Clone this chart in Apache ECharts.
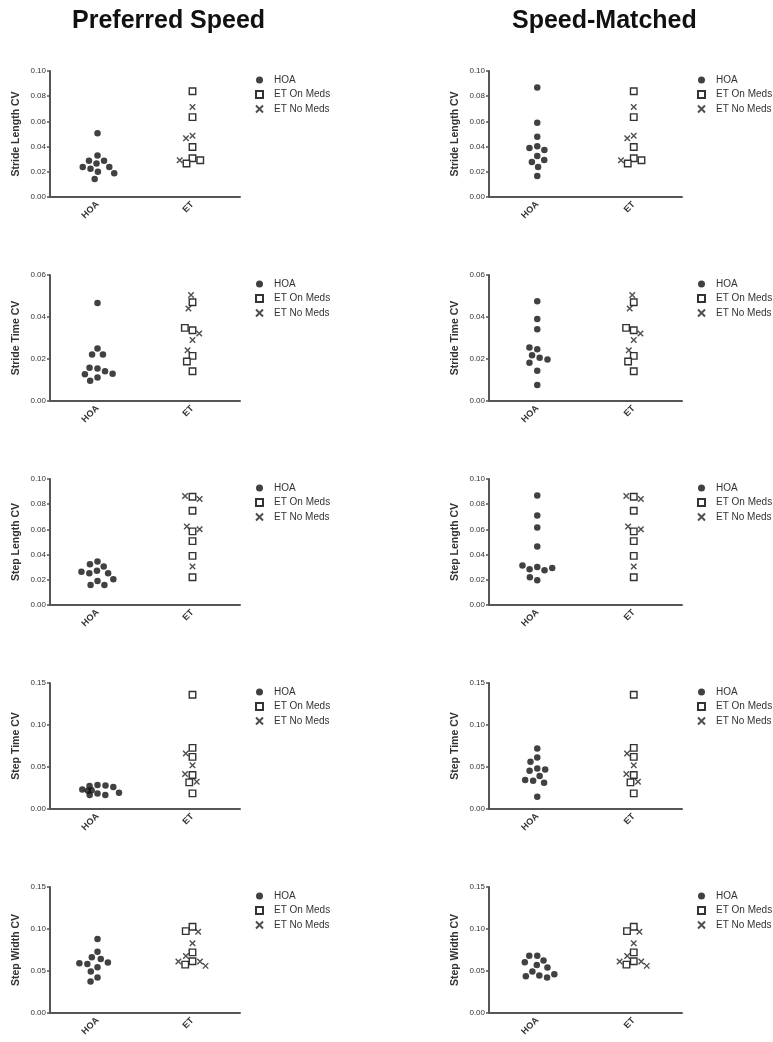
<!DOCTYPE html>
<html>
<head>
<meta charset="utf-8">
<script src="https://cdn.jsdelivr.net/npm/echarts@6/dist/echarts.min.js"></script>
<style>
html, body { margin: 0; padding: 0; background: #fff; }
#main { width: 773px; height: 1042px; }
</style>
</head>
<body>
<div id="main"></div>
<script>
var myChart = echarts.init(document.getElementById('main'));

// panel rows
var metrics = ['Stride Length CV', 'Stride Time CV', 'Step Length CV', 'Step Time CV', 'Step Width CV'];
var yMax = [0.10, 0.06, 0.10, 0.15, 0.15];
var yStep = [0.02, 0.02, 0.02, 0.05, 0.05];
var groups = ['HOA', 'ET'];
var columns = ['Preferred Speed', 'Speed-Matched'];

// HOA, preferred speed (one list per metric)
var hoaPref = [
    [0.0505, 0.0329, 0.0266, 0.0287, 0.0287, 0.0239, 0.0224, 0.0239, 0.0200, 0.0189, 0.0142],
    [0.0467, 0.0250, 0.0222, 0.0222, 0.0155, 0.0158, 0.0142, 0.0127, 0.0130, 0.0112, 0.0097],
    [0.0345, 0.0324, 0.0305, 0.0271, 0.0252, 0.0252, 0.0263, 0.0191, 0.0204, 0.0159, 0.0159],
    [0.0285, 0.0273, 0.0281, 0.0261, 0.0233, 0.0218, 0.0222, 0.0186, 0.0194, 0.0166, 0.0166],
    [0.0880, 0.0730, 0.0663, 0.0643, 0.0600, 0.0584, 0.0592, 0.0545, 0.0493, 0.0422, 0.0375]
];
// HOA, speed-matched
var hoaMatch = [
    [0.0870, 0.0590, 0.0479, 0.0402, 0.0389, 0.0373, 0.0325, 0.0278, 0.0294, 0.0238, 0.0167],
    [0.0475, 0.0391, 0.0342, 0.0247, 0.0255, 0.0218, 0.0206, 0.0198, 0.0182, 0.0144, 0.0076],
    [0.0870, 0.0711, 0.0615, 0.0464, 0.0302, 0.0284, 0.0276, 0.0294, 0.0313, 0.0196, 0.0220],
    [0.0720, 0.0613, 0.0562, 0.0483, 0.0455, 0.0471, 0.0392, 0.0336, 0.0313, 0.0344, 0.0146],
    [0.0683, 0.0683, 0.0624, 0.0604, 0.0572, 0.0541, 0.0493, 0.0446, 0.0422, 0.0438, 0.0462]
];
// ET on meds (same in both columns)
var etOn = [
    [0.0839, 0.0634, 0.0397, 0.0308, 0.0266, 0.0292],
    [0.0470, 0.0337, 0.0348, 0.0215, 0.0188, 0.0142],
    [0.0859, 0.0748, 0.0584, 0.0507, 0.0390, 0.0220],
    [0.1361, 0.0728, 0.0621, 0.0404, 0.0317, 0.0186],
    [0.1026, 0.0975, 0.0722, 0.0616, 0.0576]
];
// ET no meds
var etOff = [
    [0.0714, 0.0487, 0.0466, 0.0291],
    [0.0505, 0.0440, 0.0321, 0.0290, 0.0242],
    [0.0865, 0.0841, 0.0623, 0.0602, 0.0305],
    [0.0661, 0.0522, 0.0416, 0.0324],
    [0.0967, 0.0829, 0.0679, 0.0612, 0.0561, 0.0612]
];

var font = 'Liberation Sans, Arial, Helvetica, sans-serif';
var gridTop = [71, 275, 479, 683, 887];
var gridLeft = [50, 489];
var gridWidth = [190, 193];
var crossPath = 'path://M0,0L10,10M10,0L0,10';

var grids = [], xAxes = [], yAxes = [], legends = [], series = [];

function pairs(cat, vals) {
    return vals.map(function (v) { return [cat, v]; });
}

for (var c = 0; c < 2; c++) {
    for (var r = 0; r < 5; r++) {
        var i = grids.length;
        grids.push({
            left: gridLeft[c], top: gridTop[r], width: gridWidth[c], height: 126,
            outerBoundsMode: 'none'
        });
        xAxes.push({
            type: 'category', gridIndex: i, data: groups,
            jitter: 44, jitterOverlap: false, jitterMargin: 1.5,
            axisLine: { lineStyle: { color: '#555', width: 2 } },
            axisTick: { alignWithLabel: true, length: 3, lineStyle: { color: '#555', width: 1.5 } },
            axisLabel: { rotate: 45, fontSize: 9, fontWeight: 'bold', color: '#333', margin: 6, fontFamily: font }
        });
        yAxes.push({
            type: 'value', gridIndex: i, min: 0, max: yMax[r], interval: yStep[r],
            name: metrics[r], nameLocation: 'middle', nameGap: 28,
            nameTextStyle: { fontSize: 10.5, fontWeight: 'bold', color: '#333', fontFamily: font },
            splitLine: { show: false },
            axisLine: { show: true, lineStyle: { color: '#555', width: 2 } },
            axisTick: { show: true, length: 3, lineStyle: { color: '#555', width: 1.5 } },
            axisLabel: {
                fontSize: 8, color: '#333', margin: 4, fontFamily: font,
                formatter: function (v) { return v.toFixed(2); }
            }
        });
        legends.push({
            orient: 'vertical', left: gridLeft[c] + gridWidth[c] + 15, top: gridTop[r] + 4,
            itemWidth: 7, itemHeight: 7, itemGap: 4.5, padding: 0,
            data: ['HOA', 'ET On Meds', 'ET No Meds'],
            textStyle: { fontSize: 10, color: '#333', fontFamily: font, padding: [0, 0, 0, 6] }
        });
        var hoa = c === 0 ? hoaPref[r] : hoaMatch[r];
        series.push({
            name: 'HOA', type: 'scatter', xAxisIndex: i, yAxisIndex: i,
            symbol: 'circle', symbolSize: 6.5,
            itemStyle: { color: '#111' },
            data: pairs('HOA', hoa)
        });
        series.push({
            name: 'ET On Meds', type: 'scatter', xAxisIndex: i, yAxisIndex: i,
            symbol: 'rect', symbolSize: 6.5,
            itemStyle: { color: '#fff', borderColor: '#333', borderWidth: 1.4, opacity: 1 },
            data: pairs('ET', etOn[r])
        });
        series.push({
            name: 'ET No Meds', type: 'scatter', xAxisIndex: i, yAxisIndex: i,
            symbol: crossPath, symbolSize: 5.5,
            itemStyle: { color: '#222', borderColor: '#222', borderWidth: 1.4 },
            data: pairs('ET', etOff[r])
        });
    }
}

var option = {
    animation: false,
    textStyle: { fontFamily: font },
    title: [
        { text: columns[0], left: 72, top: 9, padding: 0,
          textStyle: { fontSize: 25, fontWeight: 'bold', color: '#111', fontFamily: font } },
        { text: columns[1], left: 512, top: 9, padding: 0,
          textStyle: { fontSize: 25, fontWeight: 'bold', color: '#111', fontFamily: font } }
    ],
    grid: grids,
    xAxis: xAxes,
    yAxis: yAxes,
    legend: legends,
    series: series
};

myChart.setOption(option);
</script>
</body>
</html>
